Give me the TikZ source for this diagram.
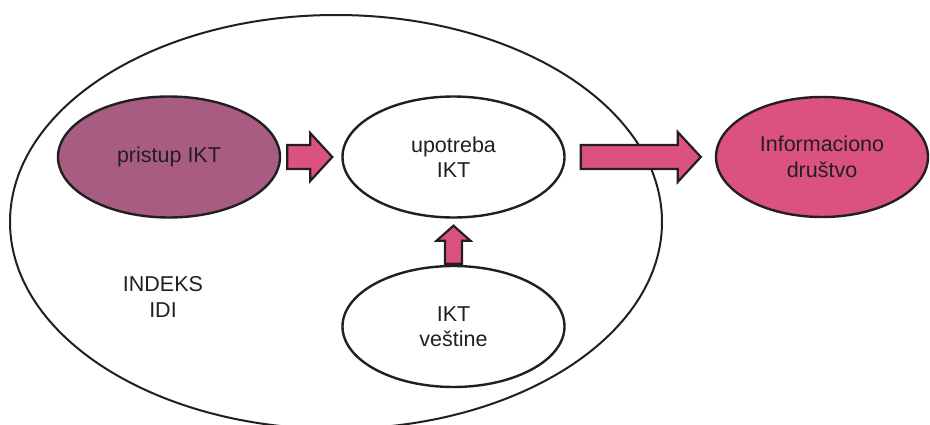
\documentclass[tikz,border=0pt]{standalone}
\usepackage{fontspec}
\setmainfont{Liberation Sans}
\usetikzlibrary{shapes.geometric,calc}
\definecolor{ink}{HTML}{231F20}
\definecolor{mauve}{HTML}{A85C82}
\definecolor{rose}{HTML}{DB517F}
\tikzset{
  ell/.style={ellipse, draw=ink, line width=2.4pt, inner sep=0pt, align=center,
    text=ink, font=\fontsize{21.5}{25.5}\selectfont},
  arr/.style={fill=rose, draw=ink, line width=2.2pt, line join=miter},
  lbl/.style={align=center, text=ink, font=\fontsize{21.5}{25.5}\selectfont}
}
\begin{document}
\begin{tikzpicture}[x=1pt,y=-1pt]
\useasboundingbox (0,0) rectangle (930,425);
\node[ellipse, draw=ink, line width=2pt, minimum width=652pt, minimum height=414pt, inner sep=0pt] (idi) at (336,222) {};
\node[ell, fill=mauve, minimum width=222pt, minimum height=121pt] (pristup) at (169,157) {pristup IKT};
\node[ell, fill=white, minimum width=222pt, minimum height=121pt] (upotreba) at (453.5,157) {upotreba\\IKT};
\node[ell, fill=white, minimum width=222pt, minimum height=121pt] (vestine) at (453.5,326.5) {IKT\\veštine};
\node[ell, fill=rose, minimum width=212pt, minimum height=120pt] (drustvo) at (822,157) {Informaciono\\društvo};
\node[lbl] (indeks) at (163,297) {INDEKS\\IDI};
% arrows
\draw[arr] ($(pristup.east)+(6,-12)$) -- ++(23,0) -- ++(0,-12)
  -- ($(upotreba.west)+(-9,0)$) -- ($(pristup.east)+(29,24)$) -- ++(0,-12) -- ++(-23,0) -- cycle;
\draw[arr] ($(upotreba.east)+(15,-12)$) -- ++(97,0) -- ++(0,-13)
  -- ($(drustvo.west)+(-14,0)$) -- ($(upotreba.east)+(112,25)$) -- ++(0,-13) -- ++(-97,0) -- cycle;
\draw[arr] ($(vestine.north)+(-8.5,-1)$) -- ++(0,-23) -- ++(-8.5,0)
  -- ($(upotreba.south)+(0,7)$) -- ($(vestine.north)+(17,-24)$) -- ++(-8.5,0) -- ++(0,23) -- cycle;
\end{tikzpicture}
\end{document}
